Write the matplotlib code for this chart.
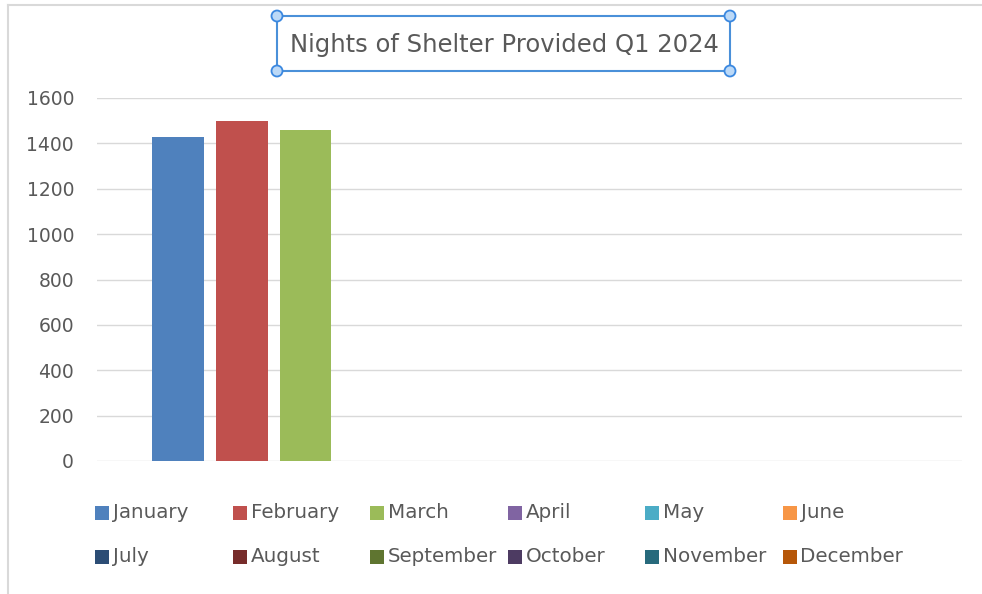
import matplotlib.pyplot as plt
from matplotlib.patches import Rectangle, Circle
from matplotlib.lines import Line2D

# data
months = ["January", "February", "March", "April", "May", "June",
          "July", "August", "September", "October", "November", "December"]
nights = [1430, 1500, 1460, 0, 0, 0, 0, 0, 0, 0, 0, 0]
colors = ["#4f81bd", "#c0504d", "#9bbb59", "#8064a2", "#4bacc6", "#f79646",
          "#2c4d75", "#772c2a", "#5f7530", "#4d3b62", "#276a7c", "#b65708"]
yticks = [0, 200, 400, 600, 800, 1000, 1200, 1400, 1600]
title = "Nights of Shelter Provided Q1 2024"

plt.rcParams['font.family'] = ['DejaVu Sans']
txt = "#595959"
W, H = 982, 594

fig = plt.figure(figsize=(9.82, 5.94), dpi=100)
fig.patch.set_facecolor("white")

# chart frame (left + top edges only visible)
fig.add_artist(Line2D([8 / W, 8 / W], [0, 1 - 5 / H], color="#d9d9d9", lw=1.5))
fig.add_artist(Line2D([8 / W, 1], [1 - 5 / H, 1 - 5 / H], color="#d9d9d9", lw=1.5))

ax = fig.add_axes([97 / W, 133 / H, (962 - 97) / W, (461 - 98) / H])
x = list(range(len(months)))
ax.bar(x, nights, width=0.81, color=colors, zorder=3)
ax.set_xlim(-1.26, 12.26)
ax.set_ylim(0, 1600)
ax.set_yticks(yticks)
ax.set_xticks([])
ax.grid(axis="y", color="#d9d9d9", lw=1, zorder=0)
for s in ax.spines.values():
    s.set_visible(False)
ax.tick_params(axis="y", length=0, pad=16.5, labelsize=13.5, labelcolor=txt)

# title with selection box
fig.text(504 / W, 1 - 45 / H, title, ha="center", va="center", fontsize=17.5, color=txt)
x0, x1, y0, y1 = 277 / W, 730 / W, 1 - 71 / H, 1 - 16 / H
fig.add_artist(Rectangle((x0, y0), x1 - x0, y1 - y0, fill=False, ec="#4a90d9", lw=1.5))
for cx, cy in [(x0, y0), (x0, y1), (x1, y0), (x1, y1)]:
    fig.add_artist(Circle((cx * W, cy * H), 5.5, transform=None, fc="#bcd9f7",
                          ec="#3b88e0", lw=1.3, zorder=5))

# legend: 6 columns x 2 rows, equal widths
for i, (m, c) in enumerate(zip(months, colors)):
    col, row = i % 6, i // 6
    mx = 95 + col * 137.5
    my = 513 + row * 44
    fig.add_artist(Rectangle((mx / W, 1 - (my + 7) / H), 14 / W, 14 / H, fc=c, ec="none"))
    fig.text((mx + 18) / W, 1 - my / H, m, ha="left", va="center", fontsize=14.3, color=txt)

fig.savefig("out.png", dpi=100)
